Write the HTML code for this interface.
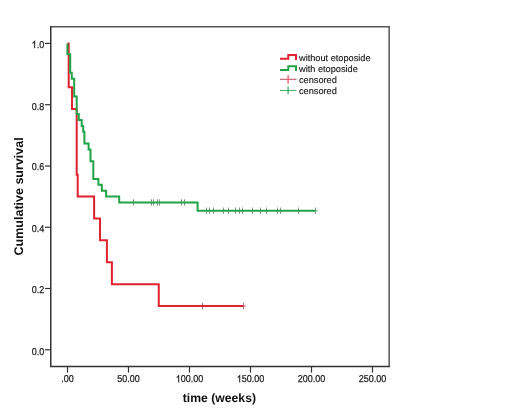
<!DOCTYPE html>
<html><head><meta charset="utf-8"><style>
html,body{margin:0;padding:0;background:#fff;}
body{width:520px;height:416px;overflow:hidden;}
svg{display:block;will-change:transform;text-rendering:geometricPrecision;font-family:"Liberation Sans", sans-serif;}
</style></head><body>
<svg width="520" height="416" viewBox="0 0 520 416"><rect width="520" height="416" fill="#fff"/><path d="M50.75 26.65H389.15V366.6" fill="none" stroke="#555" stroke-width="1.5"/><path d="M50.75 25.9V366.6H389.9" fill="none" stroke="#333" stroke-width="1.5"/><line x1="45" y1="43.4" x2="50" y2="43.4" stroke="#333" stroke-width="1.2"/><path transform="translate(31.690 48) scale(0.004395 -0.004883)" d="M763 0H583V1147Q518 1085 412.5 1023T223 930V1104Q374 1175 486.5 1276T645 1472H763Z" fill="#1a1a1a" stroke="#1a1a1a" stroke-width="0.25" vector-effect="non-scaling-stroke"/><text x="36.694" y="48" font-size="10" textLength="7.506" lengthAdjust="spacingAndGlyphs" fill="#1a1a1a" stroke="#1a1a1a" stroke-width="0.25">.0</text><line x1="45" y1="104.7" x2="50" y2="104.7" stroke="#333" stroke-width="1.2"/><text x="31.690" y="110" font-size="10" textLength="12.510" lengthAdjust="spacingAndGlyphs" fill="#1a1a1a" stroke="#1a1a1a" stroke-width="0.25">0.8</text><line x1="45" y1="166.0" x2="50" y2="166.0" stroke="#333" stroke-width="1.2"/><text x="31.690" y="170" font-size="10" textLength="12.510" lengthAdjust="spacingAndGlyphs" fill="#1a1a1a" stroke="#1a1a1a" stroke-width="0.25">0.6</text><line x1="45" y1="227.3" x2="50" y2="227.3" stroke="#333" stroke-width="1.2"/><text x="31.690" y="232" font-size="10" textLength="12.510" lengthAdjust="spacingAndGlyphs" fill="#1a1a1a" stroke="#1a1a1a" stroke-width="0.25">0.4</text><line x1="45" y1="288.5" x2="50" y2="288.5" stroke="#333" stroke-width="1.2"/><text x="31.690" y="293" font-size="10" textLength="12.510" lengthAdjust="spacingAndGlyphs" fill="#1a1a1a" stroke="#1a1a1a" stroke-width="0.25">0.2</text><line x1="45" y1="349.8" x2="50" y2="349.8" stroke="#333" stroke-width="1.2"/><text x="31.690" y="355" font-size="10" textLength="12.510" lengthAdjust="spacingAndGlyphs" fill="#1a1a1a" stroke="#1a1a1a" stroke-width="0.25">0.0</text><line x1="67.5" y1="367" x2="67.5" y2="372.6" stroke="#333" stroke-width="1.2"/><text x="61.245" y="382.3" font-size="10" textLength="12.510" lengthAdjust="spacingAndGlyphs" fill="#1a1a1a" stroke="#1a1a1a" stroke-width="0.25">.00</text><line x1="128.5" y1="367" x2="128.5" y2="372.6" stroke="#333" stroke-width="1.2"/><text x="117.241" y="382.3" font-size="10" textLength="22.518" lengthAdjust="spacingAndGlyphs" fill="#1a1a1a" stroke="#1a1a1a" stroke-width="0.25">50.00</text><line x1="189.5" y1="367" x2="189.5" y2="372.6" stroke="#333" stroke-width="1.2"/><path transform="translate(175.739 382.3) scale(0.004395 -0.004883)" d="M763 0H583V1147Q518 1085 412.5 1023T223 930V1104Q374 1175 486.5 1276T645 1472H763Z" fill="#1a1a1a" stroke="#1a1a1a" stroke-width="0.25" vector-effect="non-scaling-stroke"/><text x="180.743" y="382.3" font-size="10" textLength="22.518" lengthAdjust="spacingAndGlyphs" fill="#1a1a1a" stroke="#1a1a1a" stroke-width="0.25">00.00</text><line x1="250.5" y1="367" x2="250.5" y2="372.6" stroke="#333" stroke-width="1.2"/><path transform="translate(236.739 382.3) scale(0.004395 -0.004883)" d="M763 0H583V1147Q518 1085 412.5 1023T223 930V1104Q374 1175 486.5 1276T645 1472H763Z" fill="#1a1a1a" stroke="#1a1a1a" stroke-width="0.25" vector-effect="non-scaling-stroke"/><text x="241.743" y="382.3" font-size="10" textLength="22.518" lengthAdjust="spacingAndGlyphs" fill="#1a1a1a" stroke="#1a1a1a" stroke-width="0.25">50.00</text><line x1="311.5" y1="367" x2="311.5" y2="372.6" stroke="#333" stroke-width="1.2"/><text x="297.739" y="382.3" font-size="10" textLength="27.522" lengthAdjust="spacingAndGlyphs" fill="#1a1a1a" stroke="#1a1a1a" stroke-width="0.25">200.00</text><line x1="372.5" y1="367" x2="372.5" y2="372.6" stroke="#333" stroke-width="1.2"/><text x="358.739" y="382.3" font-size="10" textLength="27.522" lengthAdjust="spacingAndGlyphs" fill="#1a1a1a" stroke="#1a1a1a" stroke-width="0.25">250.00</text><text x="219.4" y="401.7" text-anchor="middle" font-size="12.2" font-weight="bold" fill="#111">time (weeks)</text><text transform="translate(22.6 196.4) rotate(-90)" text-anchor="middle" font-size="12.5" font-weight="bold" fill="#111">Cumulative survival</text><line x1="202.5" y1="302.83" x2="202.5" y2="309.22999999999996" stroke="#9c7488" stroke-width="1"/><line x1="243.5" y1="302.83" x2="243.5" y2="309.22999999999996" stroke="#9c7488" stroke-width="1"/><line x1="133.5" y1="199.29000000000002" x2="133.5" y2="205.69" stroke="#84948a" stroke-width="1"/><line x1="151.5" y1="199.29000000000002" x2="151.5" y2="205.69" stroke="#84948a" stroke-width="1"/><line x1="153.5" y1="199.29000000000002" x2="153.5" y2="205.69" stroke="#84948a" stroke-width="1"/><line x1="157.5" y1="199.29000000000002" x2="157.5" y2="205.69" stroke="#84948a" stroke-width="1"/><line x1="159.5" y1="199.29000000000002" x2="159.5" y2="205.69" stroke="#84948a" stroke-width="1"/><line x1="181.5" y1="199.29000000000002" x2="181.5" y2="205.69" stroke="#84948a" stroke-width="1"/><line x1="184.5" y1="199.29000000000002" x2="184.5" y2="205.69" stroke="#84948a" stroke-width="1"/><line x1="206.5" y1="207.48000000000002" x2="206.5" y2="213.88" stroke="#84948a" stroke-width="1"/><line x1="209.5" y1="207.48000000000002" x2="209.5" y2="213.88" stroke="#84948a" stroke-width="1"/><line x1="213.5" y1="207.48000000000002" x2="213.5" y2="213.88" stroke="#84948a" stroke-width="1"/><line x1="223.5" y1="207.48000000000002" x2="223.5" y2="213.88" stroke="#84948a" stroke-width="1"/><line x1="228.5" y1="207.48000000000002" x2="228.5" y2="213.88" stroke="#84948a" stroke-width="1"/><line x1="235.5" y1="207.48000000000002" x2="235.5" y2="213.88" stroke="#84948a" stroke-width="1"/><line x1="239.5" y1="207.48000000000002" x2="239.5" y2="213.88" stroke="#84948a" stroke-width="1"/><line x1="242.5" y1="207.48000000000002" x2="242.5" y2="213.88" stroke="#84948a" stroke-width="1"/><line x1="252.5" y1="207.48000000000002" x2="252.5" y2="213.88" stroke="#84948a" stroke-width="1"/><line x1="260.5" y1="207.48000000000002" x2="260.5" y2="213.88" stroke="#84948a" stroke-width="1"/><line x1="266.5" y1="207.48000000000002" x2="266.5" y2="213.88" stroke="#84948a" stroke-width="1"/><line x1="277.5" y1="207.48000000000002" x2="277.5" y2="213.88" stroke="#84948a" stroke-width="1"/><line x1="280.5" y1="207.48000000000002" x2="280.5" y2="213.88" stroke="#84948a" stroke-width="1"/><line x1="298.5" y1="207.48000000000002" x2="298.5" y2="213.88" stroke="#84948a" stroke-width="1"/><line x1="315.5" y1="207.48000000000002" x2="315.5" y2="213.88" stroke="#84948a" stroke-width="1"/><path d="M67.4 43.4H68.7V87.17H72.0V109.06H76.7V174.71H77.7V196.6H94.1V218.49H100V240.37H106.9V262.26H111.9V284.14H158.75V306.03H243.5" fill="none" stroke="#e0222f" stroke-width="2"/><path d="M67.4 43.4V54.3H70.2V72.86H71.8V78.75H74.2V96.43H76.7V114.11H78.8V120.0H81.7V125.89H83.2V131.78H84.4V143.57H88.6V149.46H90.5V161.25H93.3V178.92H98.4V184.82H101.8V190.71H106.1V196.6H119.2V202.49H197.6V210.68H315.7" fill="none" stroke="#22a348" stroke-width="2"/><line x1="243" y1="306.03" x2="245.8" y2="306.03" stroke="#ea6070" stroke-width="1.2"/><line x1="315.2" y1="210.68" x2="317.8" y2="210.68" stroke="#5cc480" stroke-width="1.2"/><path d="M280 58.8H288.3V55H296V60" fill="none" stroke="#e0222f" stroke-width="2"/><path d="M280 70H288.3V66.2H296V71" fill="none" stroke="#22a348" stroke-width="2"/><line x1="280" y1="79.3" x2="296.5" y2="79.3" stroke="#c05868" stroke-width="1.1"/><line x1="288.1" y1="75.3" x2="288.1" y2="83.8" stroke="#e84862" stroke-width="1.2"/><line x1="280" y1="90.5" x2="296.3" y2="90.5" stroke="#48b070" stroke-width="1.1"/><line x1="288.1" y1="86.5" x2="288.1" y2="94.3" stroke="#30a860" stroke-width="1.2"/><text x="299" y="60.7" font-size="9.2" fill="#1a1a1a" stroke="#1a1a1a" stroke-width="0.15">without etoposide</text><text x="299" y="72.3" font-size="9.2" fill="#1a1a1a" stroke="#1a1a1a" stroke-width="0.15">with etoposide</text><text x="299" y="83.1" font-size="9.2" fill="#1a1a1a" stroke="#1a1a1a" stroke-width="0.15">censored</text><text x="299" y="94.0" font-size="9.2" fill="#1a1a1a" stroke="#1a1a1a" stroke-width="0.15">censored</text></svg>
</body></html>
